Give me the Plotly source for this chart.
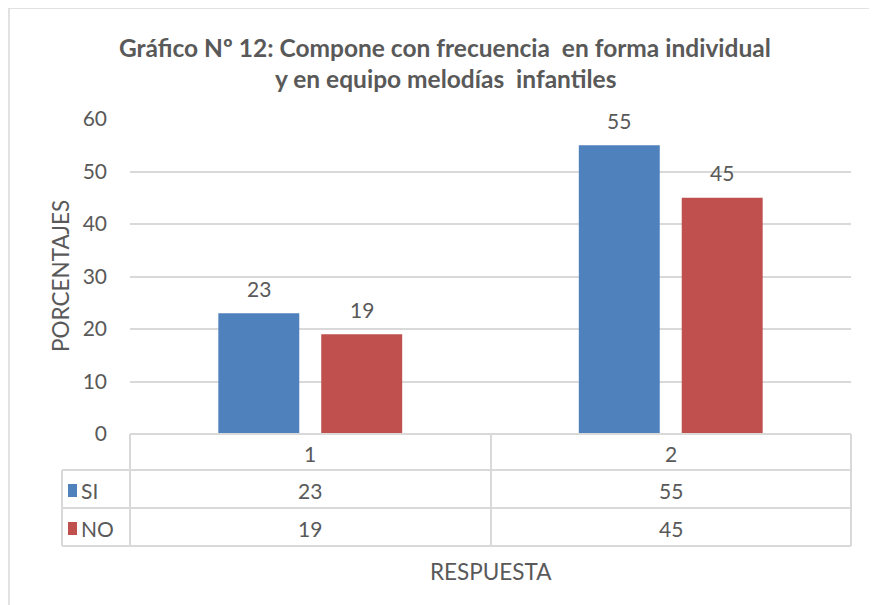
import plotly.graph_objects as go

categories = ["1", "2"]
si_values = [23, 55]
no_values = [19, 45]
series_names = ["SI", "NO"]
title_lines = ["Gráfico Nº 12: Compone con frecuencia  en forma individual",
               "y en equipo melodías  infantiles"]
y_title = "PORCENTAJES"
x_title = "RESPUESTA"

BLUE = "#4F81BD"
RED = "#C0504D"
TXT = "#595959"
GRID = "#D9D9D9"
FONT = "Lato, Open Sans, sans-serif"
NUM = 21
CAP = 22.5

OFF = 8  # browser body margin
W, H = 877 - OFF, 605 - OFF
# reference pixel positions of the plot area
PL, PR, PT, PB = 130, 851, 119, 434
L, T = PL - OFF, PT - OFF
R = W - (PR - OFF)
B = H - (PB - OFF)
PW = PR - PL
PH = PB - PT

def xp(px):
    return (px - PL) / PW

def yp(py):
    return (PB - py) / PH

fig = go.Figure()
for name, vals, col in [(series_names[0], si_values, BLUE), (series_names[1], no_values, RED)]:
    fig.add_trace(go.Bar(
        x=categories, y=vals, name=name, marker=dict(color=col, line=dict(width=0)),
    ))

shapes = []
ann = []
line = dict(color=GRID, width=2)

# data labels above bars
for vals, dx in [(si_values, -51.5), (no_values, 51.5)]:
    for i, v in enumerate(vals):
        ann.append(dict(x=i, xref="x", y=v, yref="y", text=str(v), xshift=dx, yshift=25,
                        xanchor="center", yanchor="middle", showarrow=False,
                        font=dict(size=NUM, color=TXT, family=FONT)))

# outer chart border
shapes.append(dict(type="rect", xref="paper", yref="paper",
                   x0=xp(9), x1=xp(876), y0=yp(640), y1=yp(8), line=dict(color=GRID, width=1.5)))

# data table lines
rows_y = [434, 470, 508, 546]
for i, py in enumerate(rows_y):
    x0 = 130 if i == 0 else 62
    shapes.append(dict(type="line", xref="paper", yref="paper",
                       x0=xp(x0), x1=xp(851), y0=yp(py), y1=yp(py), line=line))
for px in [130, 491, 851]:
    shapes.append(dict(type="line", xref="paper", yref="paper",
                       x0=xp(px), x1=xp(px), y0=yp(434), y1=yp(546), line=line))
shapes.append(dict(type="line", xref="paper", yref="paper",
                   x0=xp(62), x1=xp(62), y0=yp(470), y1=yp(546), line=line))

row_centers = [490, 528]
header_center = 453
for i, c in enumerate(categories):
    ann.append(dict(x=i, xref="x", y=yp(header_center), yref="paper", text=c,
                    xanchor="center", yanchor="middle",
                    showarrow=False, font=dict(size=NUM, color=TXT, family=FONT)))
for rc, name, vals, col in [(row_centers[0], series_names[0], si_values, BLUE),
                            (row_centers[1], series_names[1], no_values, RED)]:
    shapes.append(dict(type="rect", xref="paper", yref="paper",
                       x0=xp(68), x1=xp(77), y0=yp(rc + 7), y1=yp(rc - 6),
                       fillcolor=col, line=dict(width=0)))
    ann.append(dict(x=xp(79), xref="paper", y=yp(rc), yref="paper", text=name,
                    xanchor="left", yanchor="middle",
                    showarrow=False, font=dict(size=NUM, color=TXT, family=FONT)))
    for i, v in enumerate(vals):
        ann.append(dict(x=i, xref="x", y=yp(rc), yref="paper", text=str(v),
                        xanchor="center", yanchor="middle",
                        showarrow=False, font=dict(size=NUM, color=TXT, family=FONT)))

ann.append(dict(x=xp(491), xref="paper", y=yp(571), yref="paper", text=x_title,
                xanchor="center", yanchor="middle",
                showarrow=False, font=dict(size=CAP, color=TXT, family=FONT)))
ann.append(dict(x=xp(60), xref="paper", y=yp(276), yref="paper", text=y_title,
                xanchor="center", yanchor="middle", textangle=-90,
                showarrow=False, font=dict(size=CAP, color=TXT, family=FONT)))

# title (two lines)
for line_text, cy in zip(title_lines, [48, 78]):
    ann.append(dict(x=xp(445), xref="paper", y=yp(cy), yref="paper",
                    text="<b>" + line_text + "</b>", xanchor="center", yanchor="middle",
                    showarrow=False, font=dict(size=24.5, color=TXT, family=FONT)))

fig.update_layout(
    width=W, height=H,
    margin=dict(l=L, r=R, t=T, b=B, autoexpand=False),
    paper_bgcolor="white", plot_bgcolor="white",
    showlegend=False,
    barmode="group", bargap=0.429, bargroupgap=0.2136,
    font=dict(family=FONT, color=TXT),
    shapes=shapes, annotations=ann,
)
fig.update_xaxes(type="category", showticklabels=False, showgrid=False, zeroline=False,
                 showline=False, ticks="")
fig.update_yaxes(range=[0, 60], dtick=10, showgrid=True, gridcolor=GRID, gridwidth=1.5,
                 zeroline=False, showline=False, ticks="",
                 tickfont=dict(size=NUM, color=TXT, family=FONT), ticklabelstandoff=22)

fig.write_html("out.html")
